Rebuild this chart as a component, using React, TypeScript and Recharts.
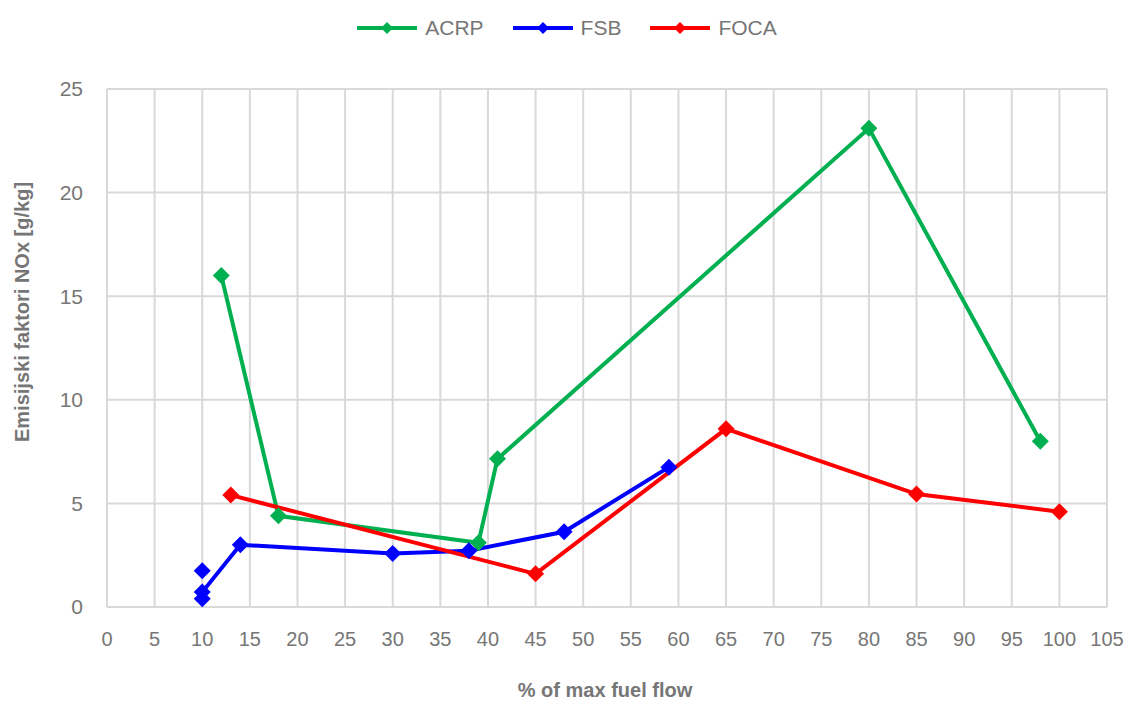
import React from 'react';
import { LineChart, Line, XAxis, YAxis, CartesianGrid, Legend } from 'recharts';

// % of max fuel flow vs NOx emission factor [g/kg]
const acrpX = [12, 18, 39, 41, 80, 98];
const acrpY = [16.0, 4.4, 3.1, 7.15, 23.1, 8.0];

// first FSB point stands alone (gap after it)
const fsbX = [10, 10, 10, 10, 14, 30, 38, 48, 59];
const fsbY = [1.75, null, 0.4, 0.72, 3.0, 2.58, 2.72, 3.63, 6.75];

const focaX = [13, 45, 65, 85, 100];
const focaY = [5.4, 1.6, 8.6, 5.45, 4.6];

const xTicks = [0, 5, 10, 15, 20, 25, 30, 35, 40, 45, 50, 55, 60, 65, 70, 75, 80, 85, 90, 95, 100, 105];
const yTicks = [0, 5, 10, 15, 20, 25];

const series = [
  { name: 'ACRP', color: '#00b050', xs: acrpX, ys: acrpY },
  { name: 'FSB', color: '#0000ff', xs: fsbX, ys: fsbY },
  { name: 'FOCA', color: '#ff0000', xs: focaX, ys: focaY },
];

const FONT = '"Liberation Sans", sans-serif';
const TEXT = '#767676';
const MARK = 8.5;

const Diamond = (props: any) => {
  const { cx, cy, color } = props;
  if (cx == null || cy == null || props.value == null) return null;
  return (
    <path
      d={`M${cx},${cy - MARK} L${cx + MARK},${cy} L${cx},${cy + MARK} L${cx - MARK},${cy} Z`}
      fill={color}
    />
  );
};

const LegendContent = () => (
  <div style={{ display: 'flex', justifyContent: 'center', alignItems: 'center', fontFamily: FONT, height: 24 }}>
    {series.map((s) => (
      <div key={s.name} style={{ display: 'flex', alignItems: 'center', margin: '0 14px' }}>
        <svg width={62} height={16}>
          <line x1={1} y1={8} x2={61} y2={8} stroke={s.color} strokeWidth={4} />
          <path d="M31,2 L37,8 L31,14 L25,8 Z" fill={s.color} />
        </svg>
        <span style={{ fontSize: 21, color: TEXT, marginLeft: 7 }}>{s.name}</span>
      </div>
    ))}
  </div>
);

const YTitle = () => (
  <text
    x={22}
    y={312}
    transform="rotate(-90, 22, 312)"
    textAnchor="middle"
    dominantBaseline="central"
    fontFamily={FONT}
    fontWeight="bold"
    fontSize={20}
    fill={TEXT}
  >
    Emisijski faktori NOx [g/kg]
  </text>
);

const XTitle = () => (
  <text
    x={605}
    y={690}
    textAnchor="middle"
    dominantBaseline="central"
    fontFamily={FONT}
    fontWeight="bold"
    fontSize={20}
    fill={TEXT}
  >
    % of max fuel flow
  </text>
);

export default function App() {
  return (
    <div style={{ position: 'absolute', left: 0, top: 0, width: 1133, height: 702, background: '#fff' }}>
      <LineChart width={1133} height={702} margin={{ top: 65, right: 26, left: 0, bottom: 0 }}>
        <CartesianGrid stroke="#d9d9d9" strokeWidth={2} horizontal vertical />
        <XAxis
          type="number"
          dataKey="x"
          domain={[0, 105]}
          ticks={xTicks}
          interval={0}
          height={95}
          stroke="#d9d9d9"
          strokeWidth={2}
          tickLine={false}
          tickSize={0}
          tickMargin={25}
          tick={{ fill: TEXT, fontSize: 20, fontFamily: FONT }}
          label={{ content: <XTitle /> }}
        />
        <YAxis
          type="number"
          domain={[0, 25]}
          ticks={yTicks}
          width={107}
          stroke="#d9d9d9"
          strokeWidth={2}
          tickLine={false}
          tickSize={0}
          tickMargin={24}
          tick={{ fill: TEXT, fontSize: 21, fontFamily: FONT }}
          label={{ content: <YTitle /> }}
        />
        <Legend
          verticalAlign="top"
          content={<LegendContent />}
          wrapperStyle={{ top: 16, left: 0, width: 1133 }}
        />
        {series.map((s) => (
          <Line
            key={s.name}
            name={s.name}
            data={s.xs.map((x, i) => ({ x, y: s.ys[i] }))}
            dataKey="y"
            stroke={s.color}
            strokeWidth={4}
            fill={s.color}
            dot={<Diamond color={s.color} />}
            activeDot={false}
            connectNulls={false}
            isAnimationActive={false}
          />
        ))}
      </LineChart>
    </div>
  );
}
